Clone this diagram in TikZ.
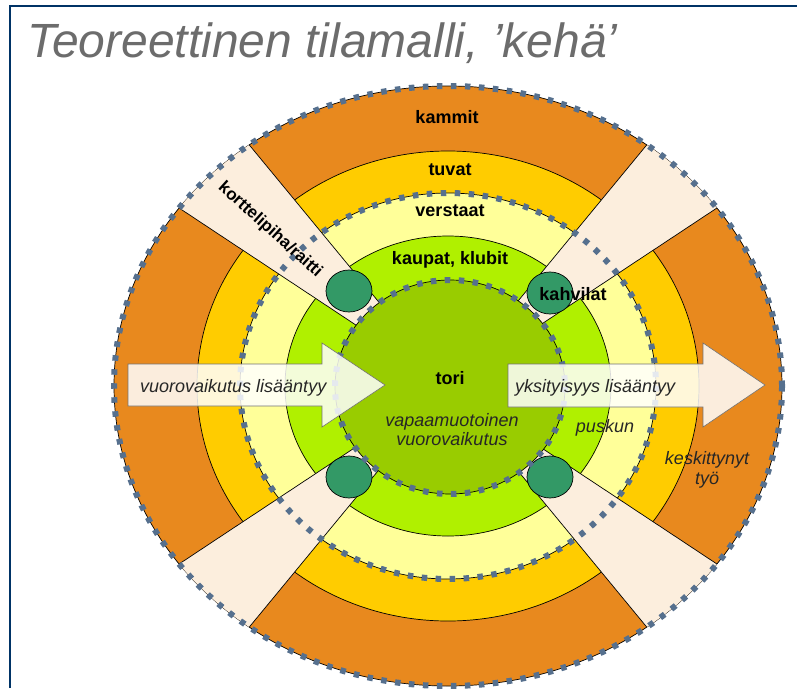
\documentclass[tikz,border=0pt]{standalone}
\usepackage{fontspec}
\setmainfont{Liberation Sans}
\usetikzlibrary{shapes.geometric}
\definecolor{kammitc}{HTML}{E8891E}
\definecolor{tuvatc}{HTML}{FFCC00}
\definecolor{verstaatc}{HTML}{FFFF99}
\definecolor{kaupatc}{HTML}{B0F000}
\definecolor{toric}{HTML}{99CC00}
\definecolor{bandc}{HTML}{FCEEDD}
\definecolor{gcircc}{HTML}{339966}
\definecolor{dotc}{HTML}{56708E}
\definecolor{framec}{HTML}{003366}
\definecolor{titlec}{HTML}{6C6C6C}
\begin{document}
\begin{tikzpicture}[x=1pt,y=-1pt,
 ring/.style={draw=black, line width=0.7pt},
 dotring/.style={draw=dotc, line width=6pt, dash pattern=on 5.5pt off 8.5pt},
 lbl/.style={font=\fontsize{18}{20}\selectfont\bfseries, anchor=base, inner sep=0pt},
 ilbl/.style={font=\fontsize{18}{19}\selectfont\itshape, anchor=base, inner sep=0pt, text=black!85},
 gcirc/.style={ellipse, draw=black, line width=0.7pt, fill=gcircc, minimum width=46pt, minimum height=42pt, inner sep=0pt},
 bigarrow/.style={draw=black!55, line width=0.6pt, fill=white, fill opacity=0.85},
]
\useasboundingbox (0,0) rectangle (797,688);
\fill[white] (0,0) rectangle (797,688);
\draw[framec, line width=2pt] (10,688) -- (10,6) -- (797,6);
\node[anchor=base west, text=titlec, font=\fontsize{48}{50}\selectfont\itshape, inner sep=0pt] (title) at (27,57) {Teoreettinen tilamalli, ’kehä’};

\coordinate (c) at (448,386);
\coordinate (tc) at (450,387);
% rings
\filldraw[fill=kammitc, ring] (c) ellipse [x radius=334, y radius=300];
\filldraw[fill=tuvatc, ring] (c) ellipse [x radius=251, y radius=235];
\filldraw[fill=verstaatc, ring] (c) ellipse [x radius=208, y radius=193];
\filldraw[fill=kaupatc, ring] (c) ellipse [x radius=163, y radius=150];
% bands
\begin{scope}
\clip (c) ellipse [x radius=334, y radius=300];
\foreach \a/\b in {129.5/146.5, 213.5/230.5, 33.5/50.5, 309.5/326.5}{
 \filldraw[fill=bandc, ring] (c) -- ({448+420*cos(\a)},{386-420*sin(\a)}) -- ({448+420*cos(\b)},{386-420*sin(\b)}) -- cycle;
}
\end{scope}
% tori
\filldraw[fill=toric, ring] (tc) ellipse [x radius=115, y radius=107];
% green circles
\node[gcirc] (g1) at (349,291) {};
\node[gcirc] (g2) at (550,293) {};
\node[gcirc] (g3) at (349,477) {};
\node[gcirc] (g4) at (550,477) {};
% dotted rings
\draw[dotring] (c) ellipse [x radius=334, y radius=300];
\draw[dotring] (c) ellipse [x radius=208, y radius=193];
\draw[dotring] (tc) ellipse [x radius=115, y radius=107];
% labels
\node[lbl] (kammit) at (447,123) {kammit};
\node[lbl] (tuvat) at (450,175) {tuvat};
\node[lbl] (verstaat) at (450,216) {verstaat};
\node[lbl] (kaupat) at (450,264) {kaupat, klubit};
\node[lbl] (kahvilat) at (573,300) {kahvilat};
\node[lbl] (tori) at (450,384) {tori};
\node[ilbl] (vapaa) at (452,426) {vapaamuotoinen};
\node[ilbl] (vuoro) at (452,445) {vuorovaikutus};
\node[ilbl] (puskun) at (605,432) {puskun};
\node[ilbl] (kesk) at (707,464) {keskittynyt};
\node[ilbl] (tyo) at (707,484) {työ};
\node[lbl, anchor=center, rotate=-42, font=\fontsize{17}{19}\selectfont\bfseries] (kp) at (270,230) {korttelipiha/raitti};
% arrows
\draw[bigarrow] (128,364) -- (322,364) -- (322,343) -- (385,385) -- (322,427) -- (322,406) -- (128,406) -- cycle;
\draw[bigarrow] (508,364) -- (703,364) -- (703,343) -- (765,385) -- (703,427) -- (703,407) -- (508,407) -- cycle;
\node[ilbl, anchor=base west] (lisa1) at (140,392) {vuorovaikutus lisääntyy};
\node[ilbl, anchor=base west] (lisa2) at (515,392) {yksityisyys lisääntyy};
\end{tikzpicture}
\end{document}
